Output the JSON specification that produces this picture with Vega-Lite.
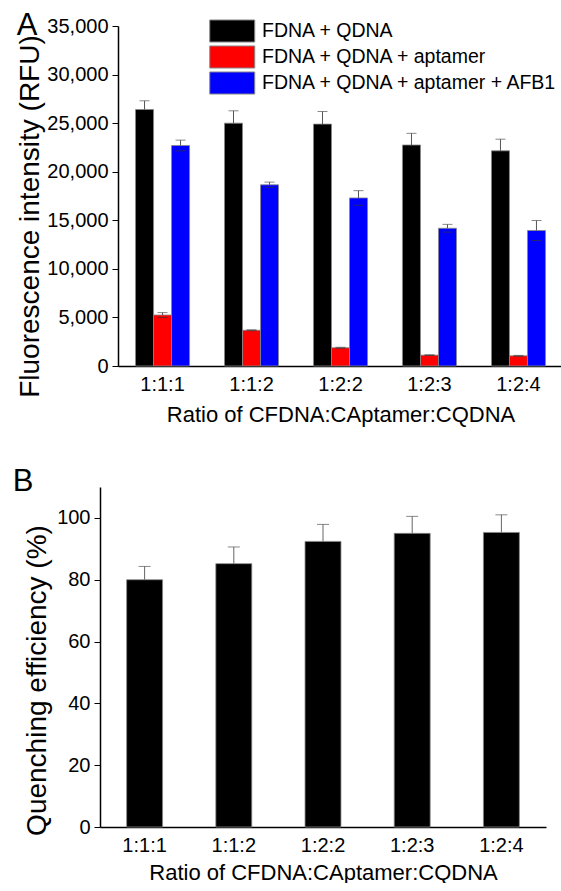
{
  "$schema": "https://vega.github.io/schema/vega-lite/v6.json",
  "padding": {"left": 12, "top": 10, "right": 0, "bottom": 0},
  "background": "white",
  "config": {
    "font": "Liberation Sans",
    "view": {"stroke": null},
    "axis": {
      "labelFont": "Liberation Sans", "titleFont": "Liberation Sans",
      "labelFontSize": 20, "titleFontSize": 28, "titleFontWeight": "normal",
      "labelColor": "black", "titleColor": "black",
      "domainColor": "black", "domainWidth": 1.5, "tickColor": "black", "tickWidth": 1,
      "grid": false
    },
    "legend": {"labelFont": "Liberation Sans", "labelColor": "black"}
  },
  "datasets": {
    "a": [
      {"ratio": "1:1:1", "group": "FDNA + QDNA", "value": 26400, "lo": 25500, "hi": 27300},
      {"ratio": "1:1:1", "group": "FDNA + QDNA + aptamer", "value": 5250, "lo": 5000, "hi": 5500},
      {"ratio": "1:1:1", "group": "FDNA + QDNA + aptamer + AFB1", "value": 22700, "lo": 22150, "hi": 23250},
      {"ratio": "1:1:2", "group": "FDNA + QDNA", "value": 25000, "lo": 23730, "hi": 26270},
      {"ratio": "1:1:2", "group": "FDNA + QDNA + aptamer", "value": 3680, "lo": 3630, "hi": 3730},
      {"ratio": "1:1:2", "group": "FDNA + QDNA + aptamer + AFB1", "value": 18650, "lo": 18370, "hi": 18930},
      {"ratio": "1:2:2", "group": "FDNA + QDNA", "value": 24900, "lo": 23600, "hi": 26200},
      {"ratio": "1:2:2", "group": "FDNA + QDNA + aptamer", "value": 1880, "lo": 1830, "hi": 1930},
      {"ratio": "1:2:2", "group": "FDNA + QDNA + aptamer + AFB1", "value": 17300, "lo": 16550, "hi": 18050},
      {"ratio": "1:2:3", "group": "FDNA + QDNA", "value": 22750, "lo": 21550, "hi": 23950},
      {"ratio": "1:2:3", "group": "FDNA + QDNA + aptamer", "value": 1120, "lo": 1080, "hi": 1160},
      {"ratio": "1:2:3", "group": "FDNA + QDNA + aptamer + AFB1", "value": 14180, "lo": 13780, "hi": 14580},
      {"ratio": "1:2:4", "group": "FDNA + QDNA", "value": 22150, "lo": 20950, "hi": 23350},
      {"ratio": "1:2:4", "group": "FDNA + QDNA + aptamer", "value": 1050, "lo": 1010, "hi": 1090},
      {"ratio": "1:2:4", "group": "FDNA + QDNA + aptamer + AFB1", "value": 13950, "lo": 12920, "hi": 14980}
    ],
    "b": [
      {"ratio": "1:1:1", "value": 80.0, "lo": 75.7, "hi": 84.3},
      {"ratio": "1:1:2", "value": 85.2, "lo": 79.8, "hi": 90.6},
      {"ratio": "1:2:2", "value": 92.4, "lo": 86.9, "hi": 97.9},
      {"ratio": "1:2:3", "value": 95.0, "lo": 89.5, "hi": 100.5},
      {"ratio": "1:2:4", "value": 95.3, "lo": 89.6, "hi": 101.0}
    ]
  },
  "spacing": 41,
  "vconcat": [
    {
      "width": 463, "height": 340,
      "title": {"text": "A", "anchor": "start", "frame": "bounds", "fontSize": 31, "fontWeight": "normal", "color": "black", "offset": -26},
      "data": {"name": "a"},
      "encoding": {
        "x": {"field": "ratio", "type": "nominal", "sort": null,
          "scale": {"range": [18, 463], "paddingInner": 0.393, "paddingOuter": 0.197},
          "axis": {"title": "Ratio of CFDNA:CAptamer:CQDNA", "titleFontSize": 22, "labelAngle": 0, "ticks": false, "labelPadding": 8, "titlePadding": 10}},
        "xOffset": {"field": "group", "type": "nominal",
          "sort": ["FDNA + QDNA", "FDNA + QDNA + aptamer", "FDNA + QDNA + aptamer + AFB1"],
          "scale": {"paddingInner": 0, "paddingOuter": 0}}
      },
      "layer": [
        {
          "mark": {"type": "bar", "stroke": "#888888", "strokeWidth": 0.8},
          "encoding": {
            "y": {"field": "value", "type": "quantitative",
              "scale": {"domain": [0, 35000], "nice": false},
              "axis": {"title": "Fluorescence intensity (RFU)", "offset": -18,
                "values": [0, 2500, 5000, 7500, 10000, 12500, 15000, 17500, 20000, 22500, 25000, 27500, 30000, 32500, 35000],
                "labelExpr": "datum.value % 5000 === 0 ? format(datum.value, ',') : ''",
                "tickSize": {"condition": {"test": "datum.value % 5000 === 0", "value": 6}, "value": 4},
                "labelPadding": 4, "titlePadding": 2, "titleY": 190}},
            "color": {"field": "group", "type": "nominal",
              "scale": {"domain": ["FDNA + QDNA", "FDNA + QDNA + aptamer", "FDNA + QDNA + aptamer + AFB1"], "range": ["#000000", "#ff0000", "#0000ff"]},
              "legend": {"title": null, "orient": "none", "legendX": 109, "legendY": -7,
                "symbolType": "M-1,-0.98H3V0.98H-1Z", "symbolSize": 506,
                "symbolStrokeColor": "#888888", "symbolStrokeWidth": 1, "symbolOpacity": 1,
                "labelFontSize": 19.5, "labelOffset": 29, "labelLimit": 400, "rowPadding": -2}}
          }
        },
        {
          "mark": {"type": "rule", "color": "#555555", "strokeWidth": 1},
          "encoding": {"y": {"field": "value", "type": "quantitative"}, "y2": {"field": "hi"}}
        },
        {
          "mark": {"type": "tick", "color": "#555555", "size": 10, "thickness": 1},
          "encoding": {"y": {"field": "hi", "type": "quantitative"}}
        },
        {
          "transform": [{"filter": "datum.group != 'FDNA + QDNA'"}],
          "mark": {"type": "tick", "color": "#333333", "size": 10, "thickness": 1},
          "encoding": {"y": {"field": "lo", "type": "quantitative"}}
        }
      ]
    },
    {
      "width": 446, "height": 340,
      "title": {"text": "B", "anchor": "start", "frame": "bounds", "fontSize": 31, "fontWeight": "normal", "color": "black", "offset": -11, "dx": -11},
      "data": {"name": "b"},
      "encoding": {
        "x": {"field": "ratio", "type": "nominal", "sort": null,
          "scale": {"paddingInner": 0.597, "paddingOuter": 0.2985},
          "axis": {"title": "Ratio of CFDNA:CAptamer:CQDNA", "titleFontSize": 22, "labelAngle": 0, "ticks": false, "labelPadding": 8, "titlePadding": 7}}
      },
      "layer": [
        {
          "mark": {"type": "bar", "color": "#000000", "stroke": "#888888", "strokeWidth": 0.8},
          "encoding": {
            "y": {"field": "value", "type": "quantitative",
              "scale": {"domain": [0, 110], "nice": false},
              "axis": {"title": "Quenching efficiency (%)",
                "values": [0, 10, 20, 30, 40, 50, 60, 70, 80, 90, 100, 110],
                "labelExpr": "datum.value % 20 === 0 && datum.value <= 100 ? datum.value : ''",
                "tickSize": {"condition": {"test": "datum.value % 20 === 0", "value": 6}, "value": 4},
                "labelPadding": 4, "titlePadding": 5, "titleY": 193}}
          }
        },
        {
          "mark": {"type": "rule", "color": "#666666", "strokeWidth": 1},
          "encoding": {"y": {"field": "value", "type": "quantitative"}, "y2": {"field": "hi"}}
        },
        {
          "mark": {"type": "tick", "color": "#555555", "size": 12, "thickness": 1},
          "encoding": {"y": {"field": "hi", "type": "quantitative"}}
        }
      ]
    }
  ]
}
